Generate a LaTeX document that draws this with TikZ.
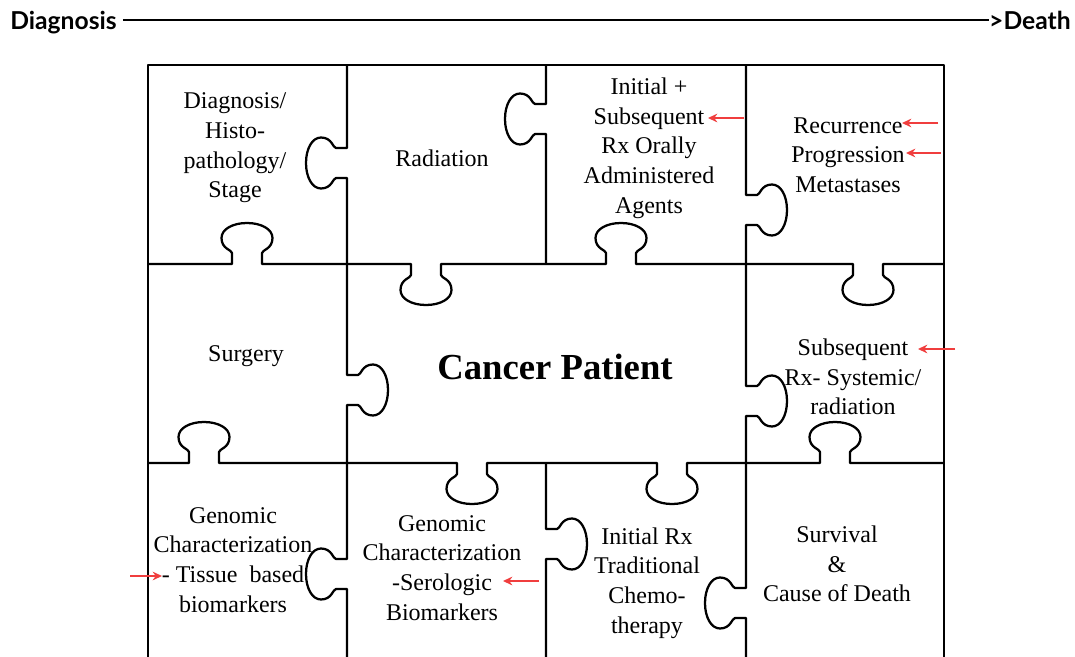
\documentclass[tikz,border=0pt]{standalone}
\usepackage{fontspec}
\setmainfont{Liberation Serif}
\newfontfamily\hdrfont{Lato}
\usetikzlibrary{arrows.meta}
\definecolor{arrowred}{RGB}{240,62,62}
% horizontal puzzle tab: y, centre x, direction (1 = down, -1 = up)
\newcommand{\htab}[3]{-- ({#2-15},#1) -- ({#2-15},{#1+(#3)*11})
 .. controls ({#2-15},{#1+(#3)*14}) and ({#2-25.5},{#1+(#3)*15}) .. ({#2-25.5},{#1+(#3)*26})
 .. controls ({#2-25.5},{#1+(#3)*35}) and ({#2-14},{#1+(#3)*41}) .. (#2,{#1+(#3)*41})
 .. controls ({#2+14},{#1+(#3)*41}) and ({#2+25.5},{#1+(#3)*35}) .. ({#2+25.5},{#1+(#3)*26})
 .. controls ({#2+25.5},{#1+(#3)*15}) and ({#2+15},{#1+(#3)*14}) .. ({#2+15},{#1+(#3)*11})
 -- ({#2+15},#1)}
% vertical puzzle tab: x, centre y, direction (1 = right, -1 = left)
\newcommand{\vtab}[3]{-- (#1,{#2-15}) -- ({#1+(#3)*11},{#2-15})
 .. controls ({#1+(#3)*14},{#2-15}) and ({#1+(#3)*15},{#2-25.5}) .. ({#1+(#3)*26},{#2-25.5})
 .. controls ({#1+(#3)*35},{#2-25.5}) and ({#1+(#3)*41},{#2-14}) .. ({#1+(#3)*41},#2)
 .. controls ({#1+(#3)*41},{#2+14}) and ({#1+(#3)*35},{#2+25.5}) .. ({#1+(#3)*26},{#2+25.5})
 .. controls ({#1+(#3)*15},{#2+25.5}) and ({#1+(#3)*14},{#2+15}) .. ({#1+(#3)*11},{#2+15})
 -- (#1,{#2+15})}
\begin{document}
\begin{tikzpicture}[x=0.75pt,y=-0.75pt,
  piece/.style={line width=1.7pt, line join=round, draw=black},
  lbl/.style={align=center, font=\rmfamily\fontsize{18}{22.3}\selectfont, inner sep=0pt},
  bigl/.style={font=\rmfamily\bfseries\fontsize{27.5}{32}\selectfont, inner sep=0pt},
  redarrow/.style={draw=arrowred, line width=1.5pt, -{Stealth[length=7pt,width=6.5pt]}},
  hdr/.style={font=\hdrfont\bfseries\fontsize{18.5}{22}\selectfont, inner sep=0pt}]
\useasboundingbox[fill=white] (0,0) rectangle (1075,657);

% header
\node[hdr, anchor=base west] (dx) at (10,29) {Diagnosis};
\node[hdr, anchor=base east] (death) at (1071,29) {>Death};
\path (dx.east) ++(6,0) coordinate (hl);
\draw[line width=1.6pt] (hl |- 0,20) -- (death.west |- 0,20);

% puzzle frame
\draw[piece] (148,657) -- (148,65) -- (944,65) -- (944,657);
% horizontal cuts
\draw[piece] (148,264) \htab{264}{247}{-1} \htab{264}{426}{1} \htab{264}{621}{-1} \htab{264}{868}{1} -- (944,264);
\draw[piece] (148,463) \htab{463}{204}{-1} \htab{463}{472}{1} \htab{463}{672}{1} \htab{463}{835}{-1} -- (944,463);
% vertical cuts
\draw[piece] (347,65) \vtab{347}{163}{-1} \vtab{347}{390}{1} \vtab{347}{574}{-1} -- (347,657);
\draw[piece] (546,65) \vtab{546}{119}{-1} -- (546,264);
\draw[piece] (546,463) \vtab{546}{544}{1} -- (546,657);
\draw[piece] (746,65) \vtab{746}{210}{1} \vtab{746}{401}{1} \vtab{746}{603}{-1} -- (746,657);

% labels
\node[lbl] (diag) at (235,148) {Diagnosis/\\Histo-\\pathology/\\Stage};
\node[lbl] (rad) at (442,158) {Radiation};
\node[lbl] (oral) at (649,148) {Initial +\\Subsequent\\Rx Orally\\Administered\\Agents};
\node[lbl] (rec) at (848,155) {Recurrence\\Progression\\Metastases};
\node[lbl] (surg) at (246,356) {Surgery};
\node[bigl] (cp) at (555,367) {Cancer Patient};
\node[lbl] (subs) at (853,377) {Subsequent\\Rx- Systemic/\\radiation};
\node[lbl] (gent) at (233,560) {Genomic\\Characterization\\- Tissue\ \ based\\biomarkers};
\node[lbl] (gens) at (442,568) {Genomic\\Characterization\\-Serologic\\Biomarkers};
\node[lbl] (chemo) at (647,583) {Initial Rx\\Traditional\\Chemo-\\therapy};
\node[lbl] (surv) at (837,564) {Survival\\\&\\Cause of Death};

% red arrows
\coordinate (a1s) at (744,118); \coordinate (a1e) at (708,118);
\coordinate (a2s) at (938,123); \coordinate (a2e) at (902,123);
\coordinate (a3s) at (941,153); \coordinate (a3e) at (906,153);
\coordinate (a4s) at (955,349); \coordinate (a4e) at (918,349);
\coordinate (a5s) at (130,576); \coordinate (a5e) at (162,576);
\coordinate (a6s) at (539,581); \coordinate (a6e) at (503,581);
\draw[redarrow] (a1s) -- (a1e);
\draw[redarrow] (a2s) -- (a2e);
\draw[redarrow] (a3s) -- (a3e);
\draw[redarrow] (a4s) -- (a4e);
\draw[redarrow] (a5s) -- (a5e);
\draw[redarrow] (a6s) -- (a6e);
\end{tikzpicture}
\end{document}
